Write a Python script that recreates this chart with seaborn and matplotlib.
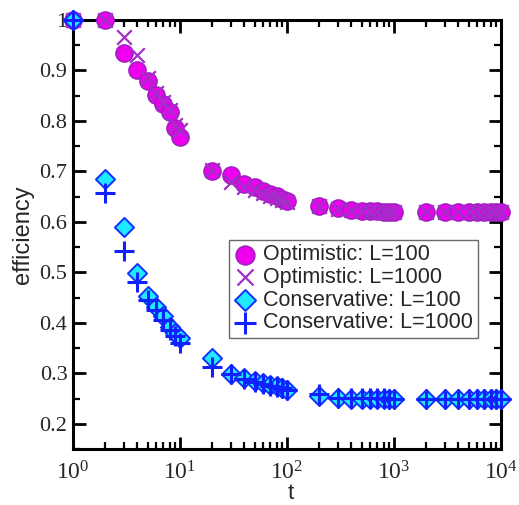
import numpy as np
import pandas as pd
import matplotlib
matplotlib.use("Agg")
import matplotlib.pyplot as plt
import seaborn as sns
from matplotlib.ticker import FixedLocator, LogLocator, FuncFormatter, NullFormatter, MultipleLocator

t = [1, 2, 3, 4, 5, 6, 7, 8, 9, 10,
     20, 30, 40, 50, 60, 70, 80, 90, 100,
     200, 300, 400, 500, 600, 700, 800, 900, 1000,
     2000, 3000, 4000, 5000, 6000, 7000, 8000, 9000, 10000]

opt_L100 = [1.0, 1.0, 0.934, 0.901, 0.879, 0.851, 0.834, 0.818, 0.787, 0.768,
            0.701, 0.692, 0.676, 0.670, 0.662, 0.656, 0.651, 0.646, 0.641,
            0.632, 0.627, 0.624, 0.622, 0.621, 0.621, 0.620, 0.620, 0.620,
            0.619, 0.619, 0.619, 0.619, 0.619, 0.619, 0.619, 0.619, 0.619]
opt_L1000 = [1.0, 1.0, 0.966, 0.931, 0.886, 0.855, 0.838, 0.822, 0.792, 0.782,
             0.702, 0.680, 0.670, 0.664, 0.657, 0.652, 0.648, 0.644, 0.640,
             0.632, 0.626, 0.623, 0.621, 0.620, 0.620, 0.620, 0.620, 0.620,
             0.619, 0.619, 0.619, 0.619, 0.619, 0.619, 0.619, 0.619, 0.619]
con_L100 = [1.0, 0.684, 0.590, 0.499, 0.454, 0.432, 0.413, 0.392, 0.380, 0.370,
            0.331, 0.299, 0.290, 0.285, 0.280, 0.277, 0.274, 0.271, 0.267,
            0.256, 0.251, 0.250, 0.250, 0.250, 0.250, 0.250, 0.250, 0.249,
            0.249, 0.249, 0.249, 0.249, 0.249, 0.249, 0.249, 0.249, 0.249]
con_L1000 = [1.0, 0.657, 0.542, 0.481, 0.446, 0.425, 0.405, 0.386, 0.373, 0.361,
             0.313, 0.298, 0.289, 0.283, 0.278, 0.275, 0.272, 0.270, 0.266,
             0.258, 0.252, 0.251, 0.251, 0.251, 0.251, 0.251, 0.250, 0.250,
             0.250, 0.250, 0.250, 0.250, 0.250, 0.250, 0.250, 0.250, 0.250]

labels = ["Optimistic: L=100", "Optimistic: L=1000",
          "Conservative: L=100", "Conservative: L=1000"]
yticks = [0.2, 0.3, 0.4, 0.5, 0.6, 0.7, 0.8, 0.9, 1.0]
xticks = [1, 10, 100, 1000, 10000]

sns.set_theme(style="ticks")
plt.rcParams['font.family'] = ['Liberation Sans', 'DejaVu Sans']
plt.rcParams['mathtext.fontset'] = 'custom'
plt.rcParams['mathtext.rm'] = 'Liberation Serif'
plt.rcParams['mathtext.it'] = 'Liberation Serif:italic'

fig = plt.figure(figsize=(5.19, 5.05), dpi=100)
ax = fig.add_axes([73/519, 1-449/505, (501-73)/519, (449-20)/505])

df = pd.DataFrame({"t": t, "o100": opt_L100, "o1000": opt_L1000,
                   "c100": con_L100, "c1000": con_L1000})

sns.scatterplot(data=df, x="t", y="o100", ax=ax, marker="o", s=150,
                color="#ee00ee", edgecolor="#a020c0", linewidth=1.2,
                label=labels[0], clip_on=False, zorder=3)
sns.scatterplot(data=df, x="t", y="o1000", ax=ax, marker="x", s=110,
                color="#a030c8", linewidth=1.6,
                label=labels[1], clip_on=False, zorder=4)
sns.scatterplot(data=df, x="t", y="c100", ax=ax, marker="D", s=95,
                color="#20e8ff", edgecolor="#1030ff", linewidth=1.4,
                label=labels[2], clip_on=False, zorder=5)
sns.scatterplot(data=df, x="t", y="c1000", ax=ax, marker="+", s=190,
                color="#1020ff", linewidth=2.2,
                label=labels[3], clip_on=False, zorder=6)

ax.set_xscale("log")
ax.set_xlim(1, 10000)
ax.set_ylim(0.15, 1.0)

ax.xaxis.set_major_locator(FixedLocator(xticks))
ax.xaxis.set_minor_locator(LogLocator(base=10, subs=np.arange(2, 10)))
ax.xaxis.set_minor_formatter(NullFormatter())
ax.xaxis.set_major_formatter(FuncFormatter(lambda v, p: r"$10^{%d}$" % int(round(np.log10(v)))))
ax.yaxis.set_major_locator(FixedLocator(yticks))
ax.yaxis.set_minor_locator(MultipleLocator(0.05))
ax.yaxis.set_major_formatter(FuncFormatter(lambda v, p: "1" if abs(v-1) < 1e-9 else "%.1f" % v))

for side in ["left", "right", "top", "bottom"]:
    ax.spines[side].set_visible(True)
    ax.spines[side].set_linewidth(2.2)
    ax.spines[side].set_color("black")

ax.tick_params(which="both", direction="in", top=True, right=True, color="black")
ax.tick_params(which="major", length=9, width=2)
ax.tick_params(which="minor", length=5, width=1.6)
ax.tick_params(axis="y", which="major", labelsize=16, pad=4)
ax.tick_params(axis="x", which="major", labelsize=17, pad=9)
for lab in ax.get_yticklabels():
    lab.set_family("Liberation Serif")

ax.set_xlabel("t", fontsize=16)
ax.xaxis.set_label_coords((289-73)/428 + 0.005, -0.080)
ax.xaxis.label.set_va("top")
ax.set_ylabel("efficiency", fontsize=17, labelpad=4)

leg = ax.legend(loc="upper left", bbox_to_anchor=((229-73)/428, 1-(240-20)/429),
                frameon=True, fancybox=False, fontsize=15.5, handletextpad=0.3,
                borderpad=0.2, labelspacing=0.08, handlelength=1.1, borderaxespad=0,
                markerscale=1.1)
leg.get_frame().set_edgecolor("#444444")
leg.get_frame().set_linewidth(1.0)

fig.savefig("out.png", dpi=100)
